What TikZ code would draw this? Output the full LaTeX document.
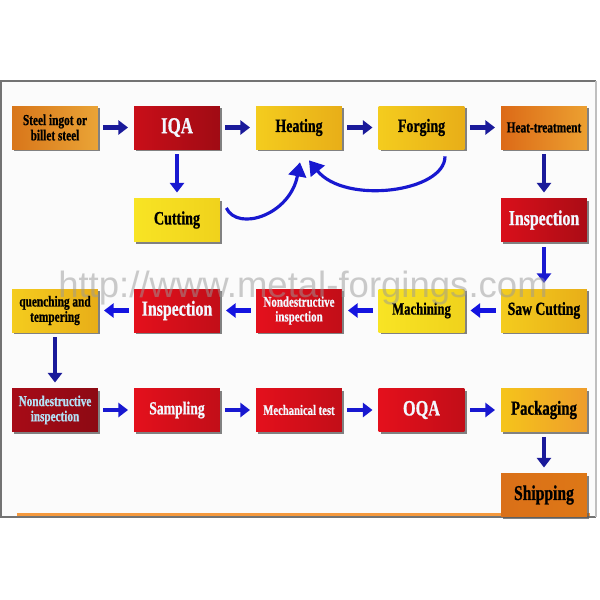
\documentclass[tikz,border=0pt]{standalone}
\usepackage{fontspec}
\newfontfamily\boxfont{Liberation Serif}[FakeStretch=0.74, FakeBold=0.8]
\newfontfamily\wmfont{Liberation Sans}
\usetikzlibrary{arrows.meta,shadows,calc}
\definecolor{navyA}{HTML}{1A1A9A}
\definecolor{blueB}{HTML}{1414E0}
\definecolor{blueC}{HTML}{1818D0}
\definecolor{redA}{HTML}{E4101C}
\definecolor{redD}{HTML}{B00C18}
\definecolor{goldL}{HTML}{F4CC1E}
\definecolor{goldR}{HTML}{E8AE18}
\definecolor{yelL}{HTML}{F8E424}
\definecolor{yelR}{HTML}{F0D21C}
\definecolor{orL}{HTML}{D8761A}
\definecolor{orR}{HTML}{EAA436}
\definecolor{lighttxt}{HTML}{F2F8FF}
\definecolor{cyantxt}{HTML}{B4E2F6}
\tikzset{
  box/.style={minimum width=1.72cm, minimum height=0.86cm, inner sep=1pt, align=center,
    drop shadow={shadow xshift=1.3pt, shadow yshift=-1.3pt, opacity=0.75, fill=black!65}},
  goldbox/.style={box, left color=goldL, right color=goldR},
  yelbox/.style={box, left color=yelL, right color=yelR},
  orbox/.style={box, left color=orL, right color=orR},
  redbox/.style={box, left color=redA, right color=redA!85!black, text=lighttxt},
  darkredbox/.style={box, left color=redD!95!black, right color=redD!80!black, text=lighttxt},
  harrow/.style={-{Triangle[width=8pt,length=5.5pt]}, line width=2.8pt, draw=#1,
    shorten <=2.8pt, shorten >=3.2pt},
  carrow/.style={-{Triangle[width=10pt,length=8pt]}, line width=1.8pt, draw=blueC},
}
\newcommand{\bfs}[1]{\boxfont\bfseries\fontsize{#1}{#1}\selectfont}
\begin{document}
\begin{tikzpicture}[x=0.02cm,y=-0.02cm]
\useasboundingbox (0,0) rectangle (600,600);
\fill[white] (0,0) rectangle (600,600);
\fill[white!97!gray] (1,81) rectangle (596,517);
\draw[black!55, line width=0.9pt] (596,517) -- (1,517) -- (1,81) -- (596,81);
\draw[black!25, line width=0.9pt] (596,81) -- (596,517);
\draw[orange!80!brown!80, line width=1.2pt] (17,514.5) -- (590,514.5);

% row 1
\node[orbox, font=\bfs{8.7}, text=black] (steel) at (55,127.5) {Steel ingot or\\billet steel};
\node[redbox, left color=redA!88!black, right color=redA!70!black, font=\bfs{13}] (iqa) at (177,127.5) {IQA};
\node[goldbox, font=\bfs{10.7}] (heat) at (299,127.5) {Heating};
\node[goldbox, font=\bfs{10.7}] (forge) at (421.5,127.5) {Forging};
\node[box, left color=orL!90!red, right color=orR!90!orange, font=\bfs{8.7}] (ht) at (544,127.5) {Heat-treatment};
% second row of first block
\node[yelbox, font=\bfs{10.8}] (cut) at (177,220) {Cutting};
\node[redbox, left color=redA!95!black, right color=redA!75!black, font=\bfs{12.2}] (insp1) at (544,220) {Inspection};
% row 2
\node[goldbox, font=\bfs{8.7}] (quench) at (55,310.5) {quenching and\\tempering};
\node[redbox, font=\bfs{12.2}] (insp2) at (177,310.5) {Inspection};
\node[redbox, font=\bfs{8.4}] (ndt1) at (299,310.5) {Nondestructive\\inspection};
\node[yelbox, font=\bfs{9.8}] (mach) at (421.5,310.5) {Machining};
\node[goldbox, font=\bfs{10.5}] (saw) at (544,310.5) {Saw Cutting};
% row 3
\node[darkredbox, text=cyantxt, font=\bfs{8.6}] (ndt2) at (55,410) {Nondestructive\\inspection};
\node[redbox, font=\bfs{10.5}] (samp) at (177,410) {Sampling};
\node[redbox, font=\bfs{8.2}] (mech) at (299,410) {Mechanical test};
\node[redbox, font=\bfs{12.5}] (oqa) at (421.5,410) {OQA};
\node[box, left color=goldL!90!orange, right color=orR!80!orange, font=\bfs{11.4}] (pack) at (544,410) {Packaging};
\node[box, left color=orL!95!red, right color=orL!85!orange, font=\bfs{12}] (ship) at (544,495) {Shipping};

% arrows row 1
\draw[harrow=navyA] (steel) -- (iqa);
\draw[harrow=navyA] (iqa) -- (heat);
\draw[harrow=navyA] (heat) -- (forge);
\draw[harrow=navyA] (forge) -- (ht);
\draw[harrow=blueC] (iqa) -- (cut);
\draw[harrow=navyA] (ht) -- (insp1);
\draw[harrow=blueC] (insp1) -- (saw);
% row 2 (leftwards)
\draw[harrow=blueB] (saw) -- (mach);
\draw[harrow=blueB] (mach) -- (ndt1);
\draw[harrow=blueB] (ndt1) -- (insp2);
\draw[harrow=blueB] (insp2) -- (quench);
\draw[harrow=navyA] (quench) -- (ndt2);
% row 3
\draw[harrow=blueC] (ndt2) -- (samp);
\draw[harrow=blueC] (samp) -- (mech);
\draw[harrow=blueC] (mech) -- (oqa);
\draw[harrow=blueC] (oqa) -- (pack);
\draw[harrow=navyA] (pack) -- (ship);

% curved arrows
\coordinate (c1s) at ($(cut.east)+(6,-12)$);
\coordinate (c1e) at ($(heat.south)+(1,13)$);
\draw[carrow] (c1s) .. controls (238,232) and (290,215) .. (c1e);
\coordinate (c2s) at ($(forge.south)+(23.5,7)$);
\coordinate (c2e) at ($(heat.south)+(10,11)$);
\draw[carrow] (c2s) .. controls (445,192) and (345,205) .. (c2e);

% watermark
\node[anchor=base, font=\wmfont\fontsize{20.8}{20.8}\selectfont, text=black!40, opacity=0.5] (wm) at (303,297) {http://www.metal-forgings.com};
\end{tikzpicture}
\end{document}
